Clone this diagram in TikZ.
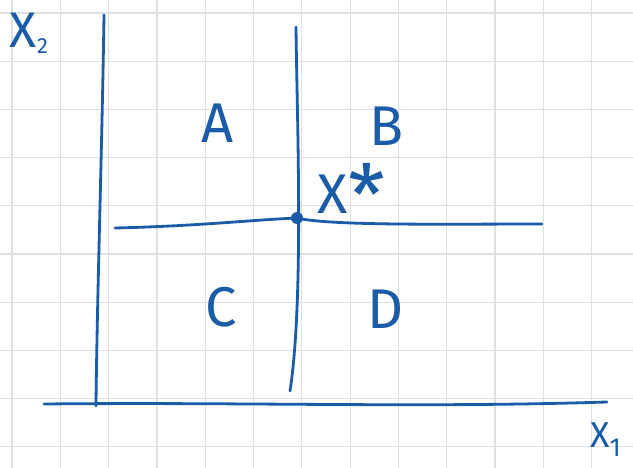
\documentclass[tikz,border=0pt]{standalone}
\usepackage{fontspec}
\setmainfont{Fira Sans}
\definecolor{ink}{RGB}{26,92,168}
\definecolor{gridc}{RGB}{222,224,226}
\begin{document}
\begin{tikzpicture}[x=1pt,y=-1pt,
  pen/.style={draw=ink, line width=2.8pt, line cap=round, line join=round},
  gridline/.style={draw=gridc, line width=1.2pt},
  lbl/.style={text=ink, inner sep=0pt, font=\fontsize{56}{56}\selectfont},
  axlbl/.style={text=ink, inner sep=0pt, font=\fontsize{50}{50}\selectfont}]
\useasboundingbox (0,0) rectangle (633,468);
\fill[white] (0,0) rectangle (633,468);
% grid paper
\foreach \i in {0,...,12} \draw[gridline] ({12+48.3*\i},0) -- ++(0,468);
\foreach \j in {0,...,9} \draw[gridline] (0,{13+48.2*\j}) -- ++(633,0);
% axes
\coordinate (ytop) at (104,15);
\coordinate (ybot) at (96,406);
\coordinate (xl) at (44,404);
\coordinate (xr) at (607,402);
\draw[pen] (ytop) .. controls (102,150) and (97,300) .. (ybot);
\draw[pen] (xl) .. controls (250,402) and (420,408) .. (xr);
% split lines
\coordinate (vtop) at (296,27);
\coordinate (vbot) at (290,391);
\coordinate (hl) at (115,228);
\coordinate (hr) at (542,224);
\node[circle, fill=ink, minimum size=12pt, inner sep=0pt] (xstar) at (297,218) {};
\draw[pen] (vtop) .. controls (297,120) and (304,300) .. (vbot);
\draw[pen] (hl) .. controls (200,226) and (250,220) .. (xstar.center) .. controls (330,226) and (450,224) .. (hr);
% region labels
\node[lbl] (A) at (218,123) {A};
\node[lbl] (B) at (387,126) {B};
\node[lbl] (C) at (221,307) {C};
\node[lbl] (D) at (386,309) {D};
\node[lbl, anchor=base west] (xs) at (317,214) {X\hspace{1pt}{\fontsize{84}{84}\selectfont\raisebox{-12pt}{*}}};
% axis labels
\node[axlbl, anchor=base west] (x2) at (9,48) {X\hspace{1pt}\raisebox{-6pt}{\fontsize{22}{22}\selectfont 2}};
\node[text=ink, inner sep=0pt, font=\fontsize{36}{36}\selectfont, anchor=base west] (x1) at (590,447) {X\raisebox{-9pt}{\fontsize{26}{26}\selectfont 1}};
\end{tikzpicture}
\end{document}
